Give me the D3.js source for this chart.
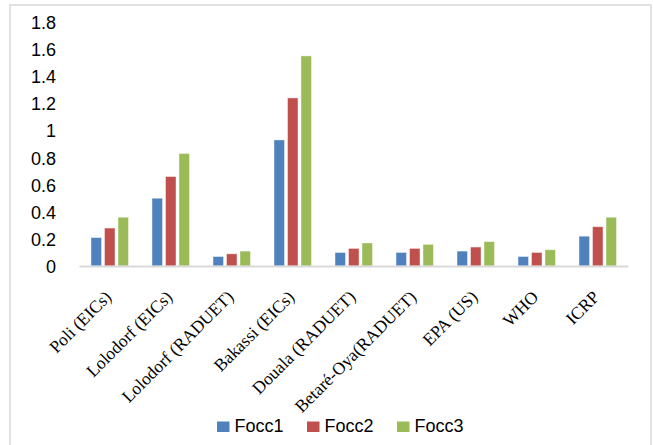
<!DOCTYPE html>
<html>
<head>
<meta charset="utf-8">
<script src="https://cdn.jsdelivr.net/npm/d3@7"></script>
<style>
  html, body { margin: 0; padding: 0; background: #fff; }
  svg { display: block; }
</style>
</head>
<body>
<svg id="chart" width="653" height="445"></svg>
<script>
// Categories (sites and reference limits)
const categories = [
  "Poli (EICs)", "Lolodorf (EICs)", "Lolodorf (RADUET)", "Bakassi (EICs)",
  "Douala (RADUET)", "Betaré-Oya(RADUET)", "EPA (US)", "WHO", "ICRP"
];
const seriesNames = ["Focc1", "Focc2", "Focc3"];
const focc1 = [0.21, 0.50, 0.07, 0.93, 0.10, 0.10, 0.11, 0.07, 0.22];
const focc2 = [0.28, 0.66, 0.09, 1.24, 0.13, 0.13, 0.14, 0.10, 0.29];
const focc3 = [0.36, 0.83, 0.11, 1.55, 0.17, 0.16, 0.18, 0.12, 0.36];
const yTicks = [0, 0.2, 0.4, 0.6, 0.8, 1, 1.2, 1.4, 1.6, 1.8];
const colors = ["#4F81BD", "#C0504D", "#9BBB59"];

const seriesValues = [focc1, focc2, focc3];
const svg = d3.select("#chart");

// outer chart frame
svg.append("rect")
  .attr("x", 10).attr("y", 5)
  .attr("width", 641).attr("height", 460)
  .attr("fill", "#fff")
  .attr("stroke", "#d9d9d9").attr("stroke-width", 1.5);

const plot = { left: 79, right: 628, top: 22, bottom: 266 };

const x = d3.scaleBand().domain(categories).range([plot.left, plot.right]).padding(0);
const xSub = d3.scaleBand().domain(seriesNames).range([12, 49.5]).paddingInner(0.22);
const y = d3.scaleLinear().domain([0, 1.8]).range([plot.bottom, plot.top]);

// y tick labels (no axis line)
const yAxis = d3.axisLeft(y).tickValues(yTicks).tickSize(0).tickPadding(0)
  .tickFormat(d => d3.format("")(+d.toFixed(1)));
const gy = svg.append("g").attr("transform", "translate(56,0)").call(yAxis);
gy.select(".domain").remove();
gy.selectAll("text")
  .attr("font-family", "'Liberation Sans', Arial, sans-serif")
  .attr("font-size", 18)
  .attr("fill", "#000")
  .attr("dy", "0.36em");

// bars
const groups = svg.append("g").selectAll("g")
  .data(categories)
  .join("g")
  .attr("transform", d => `translate(${x(d)},0)`);

groups.selectAll("rect")
  .data((d, i) => seriesNames.map((s, j) => ({ s, j, v: seriesValues[j][i] })))
  .join("rect")
  .attr("x", d => xSub(d.s))
  .attr("width", xSub.bandwidth())
  .attr("y", d => y(d.v))
  .attr("height", d => y(0) - y(d.v))
  .attr("fill", d => colors[d.j])
  .attr("stroke", "rgba(255,255,255,0.55)")
  .attr("stroke-width", 0.8);

// category axis baseline
const xAxis = d3.axisBottom(x).tickSize(0).tickPadding(0);
const gx = svg.append("g").attr("transform", `translate(0,${plot.bottom})`).call(xAxis);
gx.select(".domain").attr("stroke", "#d9d9d9").attr("stroke-width", 1.8);
gx.selectAll(".tick text")
  .attr("font-family", "'Liberation Serif', 'Times New Roman', serif")
  .attr("font-size", 17.5)
  .attr("fill", "#000")
  .attr("text-anchor", "end")
  .attr("dy", null)
  .attr("y", 0)
  .attr("transform", "translate(3,32) rotate(-45)");

// legend
const legendX = [217, 307, 397];
const legend = svg.append("g").selectAll("g")
  .data(seriesNames)
  .join("g")
  .attr("transform", (d, i) => `translate(${legendX[i]},0)`);
legend.append("rect")
  .attr("x", 0).attr("y", 421.5)
  .attr("width", 12.5).attr("height", 10.5)
  .attr("fill", (d, i) => colors[i]);
legend.append("text")
  .attr("x", 17.5).attr("y", 432)
  .attr("font-family", "'Liberation Sans', Arial, sans-serif")
  .attr("font-size", 18)
  .attr("fill", "#000")
  .text(d => d);
</script>
</body>
</html>
